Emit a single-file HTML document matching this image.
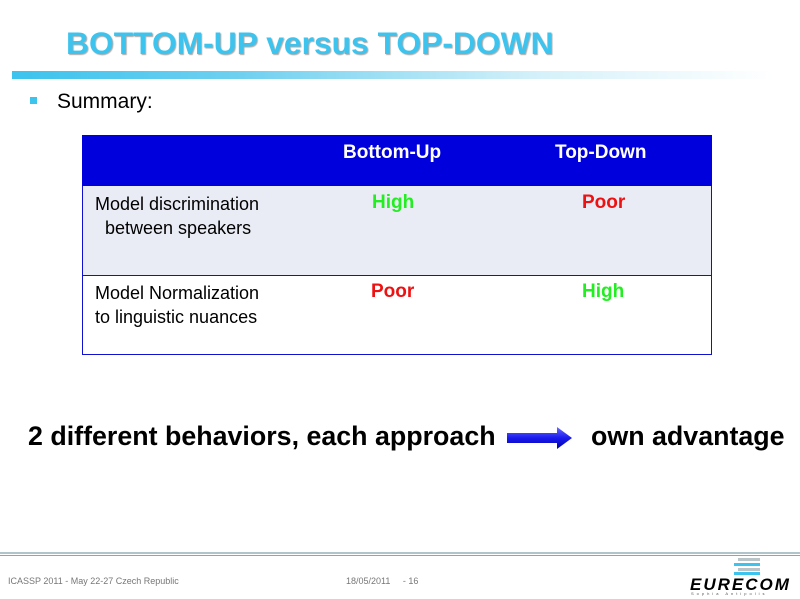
<!DOCTYPE html>
<html><head><meta charset="utf-8"><style>
body{margin:0;width:800px;height:599px;background:#fff;position:relative;overflow:hidden;font-family:"Liberation Sans",sans-serif}
.a{position:absolute;white-space:nowrap}
</style></head><body>
<div class="a" style="left:66px;top:25px;font-size:31.8px;font-weight:bold;color:#3cc3ee;letter-spacing:0;text-shadow:1px 1px 1px #aaa">BOTTOM-UP versus TOP-DOWN</div>
<div class="a" style="left:12px;top:71px;width:760px;height:8px;background:linear-gradient(to right,#3cc3ee 0%,#6fd0f0 30%,#d6f1fa 70%,#fff 100%)"></div>
<div class="a" style="left:30px;top:97px;width:7px;height:7px;background:#3cc3ee"></div>
<div class="a" style="left:57px;top:90px;font-size:21px;color:#000">Summary:</div>
<div class="a" style="left:83px;top:186px;width:628px;height:89px;background:#eaecf5;border-bottom:1px solid #1010d0"></div>
<div class="a" style="left:82px;top:135px;width:630px;height:220px;border:1px solid #1010d0;box-sizing:border-box"></div>
<div class="a" style="left:82px;top:135px;width:630px;height:51px;background:#0000dd"></div>
<div class="a" style="left:343px;top:142px;font-size:19px;font-weight:bold;color:#fff">Bottom-Up</div>
<div class="a" style="left:555px;top:142px;font-size:19px;font-weight:bold;color:#fff">Top-Down</div>
<div class="a" style="left:95px;top:192px;font-size:18px;line-height:24px;color:#000">Model discrimination<br>&nbsp;&nbsp;between speakers</div>
<div class="a" style="left:95px;top:281px;font-size:18px;line-height:24px;color:#000">Model Normalization<br>to linguistic nuances</div>
<div class="a" style="left:372px;top:192px;font-size:19px;font-weight:bold;color:#22ee22">High</div>
<div class="a" style="left:582px;top:192px;font-size:19px;font-weight:bold;color:#ee1111">Poor</div>
<div class="a" style="left:371px;top:281px;font-size:19px;font-weight:bold;color:#ee1111">Poor</div>
<div class="a" style="left:582px;top:281px;font-size:19px;font-weight:bold;color:#22ee22">High</div>
<div class="a" style="left:28px;top:421px;font-size:26.8px;font-weight:bold;color:#000">2 different behaviors, each approach</div>
<svg class="a" style="left:505px;top:426px" width="70" height="24"><defs><linearGradient id="g" x1="0" y1="0" x2="0" y2="1"><stop offset="0" stop-color="#6a6aff"/><stop offset="0.5" stop-color="#1a1aee"/><stop offset="1" stop-color="#0000aa"/></linearGradient></defs><polygon points="2,7 52,7 52,1 67,12 52,23 52,17 2,17" fill="url(#g)"/></svg>
<div class="a" style="left:591px;top:421px;font-size:26.8px;font-weight:bold;color:#000">own advantage</div>
<div class="a" style="left:0;top:552px;width:800px;height:2px;background:#b0c4cc"></div>
<div class="a" style="left:0;top:555px;width:800px;height:1px;background:#3cc3ee"></div>
<div class="a" style="left:8px;top:576px;font-size:9px;color:#777">ICASSP 2011 - May 22-27 Czech Republic</div>
<div class="a" style="left:346px;top:576px;font-size:9px;color:#777">18/05/2011&nbsp;&nbsp;&nbsp;&nbsp;&nbsp;- 16</div>
<div class="a" style="left:738px;top:558px;width:22px;height:3px;background:#b8c4c8"></div>
<div class="a" style="left:734px;top:563px;width:26px;height:3px;background:#3cc3ee"></div>
<div class="a" style="left:738px;top:568px;width:22px;height:3px;background:#b8c4c8"></div>
<div class="a" style="left:734px;top:572px;width:26px;height:3px;background:#3cc3ee"></div>
<div class="a" style="left:690px;top:575px;font-size:17px;font-weight:bold;font-style:italic;color:#000;letter-spacing:2px">EURECOM</div>
<div class="a" style="left:691px;top:591px;font-size:4px;color:#555;letter-spacing:3px">Sophia Antipolis</div>
</body></html>
